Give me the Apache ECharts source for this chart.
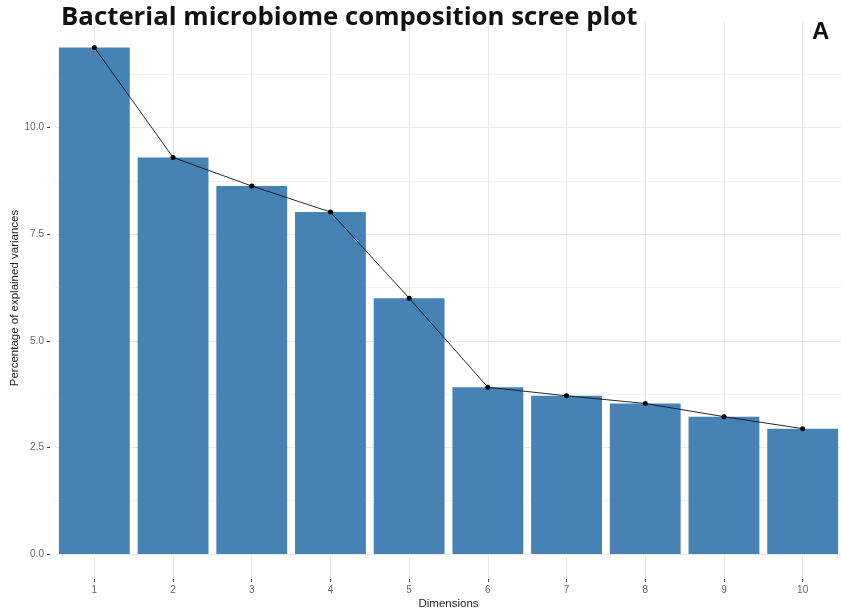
<!DOCTYPE html>
<html>
<head>
<meta charset="utf-8">
<script src="https://cdn.jsdelivr.net/npm/echarts@6/dist/echarts.min.js"></script>
<style>
html,body{margin:0;padding:0;background:#fff;}
#chart{width:841px;height:613px;}
</style>
</head>
<body>
<div id="chart"></div>
<script>
const titleText = 'Bacterial microbiome composition scree plot';
const panelLetter = 'A';
const dimensions = ['1','2','3','4','5','6','7','8','9','10'];
const explainedVariance = [11.88, 9.30, 8.63, 8.02, 6.00, 3.91, 3.71, 3.53, 3.22, 2.94];
const yTicks = [0, 2.5, 5, 7.5, 10];
const yAxisName = 'Percentage of explained variances';
const xAxisName = 'Dimensions';

const gridColor = '#e9e9e9';
const minorGridColor = '#f1f1f1';
const labelColor = '#666';

const chart = echarts.init(document.getElementById('chart'), null, {renderer: 'canvas'});
chart.setOption({
  backgroundColor: '#fff',
  animation: false,
  title: [
    {text: titleText, left: 56, top: 0,
     textStyle: {fontFamily: 'Open Sans', fontWeight: 'bold', fontSize: 25.8, color: '#111'}},
    {text: panelLetter, left: 807, top: 15,
     textStyle: {fontFamily: 'Liberation Sans', fontWeight: 'bold', fontSize: 24, color: '#111'}}
  ],
  graphic: [
    {type: 'text', x: 15, y: 298, rotation: Math.PI / 2,
     style: {text: yAxisName, fontFamily: 'Liberation Sans', fontSize: 11.5, fill: '#222',
             align: 'center', verticalAlign: 'middle'}}
  ],
  grid: [
    {left: 55, right: -1, top: 21, bottom: 59, containLabel: false, outerBoundsMode: 'none'},
    {left: 55, right: -1, top: 554, bottom: 34, containLabel: false, outerBoundsMode: 'none'}
  ],
  xAxis: [
    {type: 'category', gridIndex: 0, data: dimensions, boundaryGap: true,
     axisLine: {show: false}, axisTick: {show: false}, axisLabel: {show: false},
     splitLine: {show: true, alignWithLabel: true, lineStyle: {color: gridColor, width: 1}}},
    {type: 'category', gridIndex: 1, data: dimensions, boundaryGap: true,
     axisLine: {show: false},
     axisTick: {show: true, alignWithLabel: true, length: 3, lineStyle: {color: '#444'}},
     axisLabel: {show: true, margin: 6, fontFamily: 'Liberation Sans', fontSize: 10, color: labelColor},
     splitLine: {show: true, alignWithLabel: true, lineStyle: {color: gridColor, width: 1}},
     name: xAxisName, nameLocation: 'middle', nameGap: 19,
     nameTextStyle: {fontFamily: 'Liberation Sans', fontSize: 11.5, color: '#222', verticalAlign: 'top'}}
  ],
  yAxis: [
    {type: 'value', gridIndex: 0, min: 0, max: 12.5, interval: 2.5,
     axisLine: {show: false}, axisTick: {show: false}, axisLabel: {show: false},
     splitLine: {show: true, showMaxLine: false, lineStyle: {color: gridColor, width: 1}},
     minorTick: {show: false, splitNumber: 2},
     minorSplitLine: {show: true, lineStyle: {color: minorGridColor, width: 1}}},
    {type: 'value', gridIndex: 1, min: 0, max: 1, show: false, splitLine: {show: false}},
    {type: 'value', gridIndex: 0, position: 'left', min: 0, max: 12.5, interval: 2.5, offset: 5,
     axisLine: {show: false},
     axisTick: {show: true, length: 3, customValues: yTicks, lineStyle: {color: '#444'}},
     axisLabel: {margin: 6, customValues: yTicks, fontFamily: 'Liberation Sans', fontSize: 10, color: labelColor,
       formatter: function (v) { return v > 10 ? '' : Number(v).toFixed(1); }},
     splitLine: {show: false}}
  ],
  series: [
    {type: 'bar', xAxisIndex: 0, yAxisIndex: 0, data: explainedVariance,
     barWidth: '90%', itemStyle: {color: '#4682B4'}},
    {type: 'line', xAxisIndex: 0, yAxisIndex: 0, data: explainedVariance, z: 5,
     symbol: 'circle', symbolSize: 5, showSymbol: true,
     lineStyle: {color: '#111', width: 0.9}, itemStyle: {color: '#000'}}
  ]
});
</script>
</body>
</html>
